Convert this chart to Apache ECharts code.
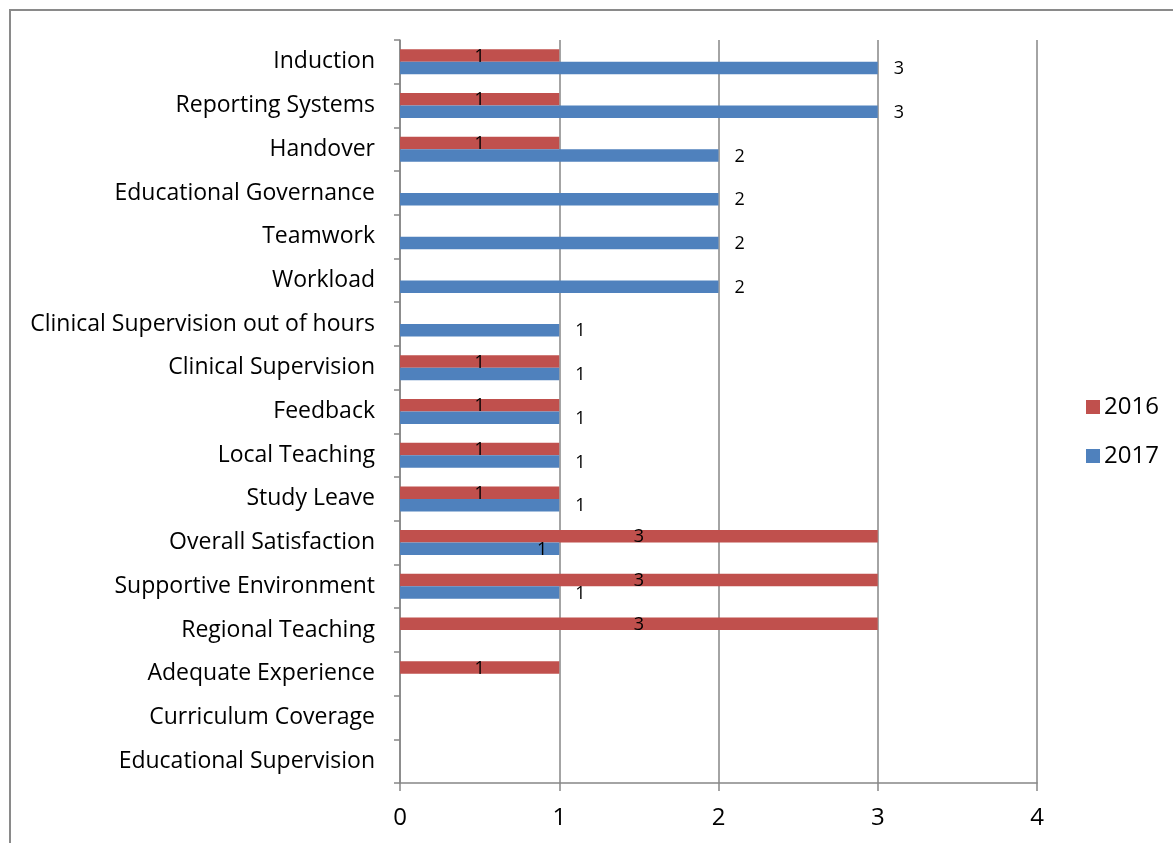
<!DOCTYPE html>
<html>
<head>
<meta charset="utf-8">
<script src="https://cdn.jsdelivr.net/npm/echarts@6/dist/echarts.min.js"></script>
<style>
html,body{margin:0;padding:0;background:#fff;}
#chart{width:1173px;height:843px;}
</style>
</head>
<body>
<div id="chart"></div>
<script>
const categories = ["Induction","Reporting Systems","Handover","Educational Governance","Teamwork","Workload","Clinical Supervision out of hours","Clinical Supervision","Feedback","Local Teaching","Study Leave","Overall Satisfaction","Supportive Environment","Regional Teaching","Adequate Experience","Curriculum Coverage","Educational Supervision"];
const values2016 = [1,1,1,null,null,null,null,1,1,1,1,3,3,3,1,null,null];
const values2017 = [3,3,2,2,2,2,1,1,1,1,1,1,1,null,null,null,null];
const xTicks = [0,1,2,3,4];

const FONT = "'Open Sans', 'Liberation Sans', sans-serif";
const chart = echarts.init(document.getElementById('chart'));

const data2017 = values2017.map((v, i) => {
  if (categories[i] === "Overall Satisfaction") {
    return { value: v, label: { position: 'insideRight', distance: 12 } };
  }
  return v;
});

chart.setOption({
  animation: false,
  backgroundColor: '#ffffff',
  graphic: [{
    type: 'rect',
    shape: { x: 10, y: 10, width: 1300, height: 1000 },
    style: { fill: 'none', stroke: '#8a8a8a', lineWidth: 2 },
    silent: true
  }],
  grid: { left: 400, right: 136, top: 40, bottom: 60 },
  legend: {
    orient: 'vertical',
    left: 1081,
    top: 390,
    itemWidth: 14,
    itemHeight: 14,
    itemGap: 25,
    icon: 'rect',
    textStyle: { fontFamily: FONT, fontSize: 24, lineHeight: 24, color: '#000', padding: [0, 0, 0, -1] },
    data: ['2016', '2017']
  },
  xAxis: {
    type: 'value',
    min: xTicks[0],
    max: xTicks[xTicks.length - 1],
    interval: 1,
    axisLine: { show: true, lineStyle: { color: '#868686', width: 1.5 } },
    axisTick: { show: true, length: 8, lineStyle: { color: '#868686', width: 1.5 } },
    axisLabel: { fontFamily: FONT, fontSize: 24, color: '#000', margin: 23 },
    splitLine: { show: true, lineStyle: { color: '#868686', width: 1.5 } }
  },
  yAxis: {
    type: 'category',
    inverse: true,
    data: categories,
    axisLine: { show: true, lineStyle: { color: '#868686', width: 1.5 } },
    axisTick: { show: true, length: 6, lineStyle: { color: '#868686', width: 1.5 } },
    axisLabel: { fontFamily: FONT, fontSize: 23, color: '#000', margin: 25 },
    splitLine: { show: false }
  },
  series: [
    {
      name: '2016',
      type: 'bar',
      barWidth: 12.5,
      barGap: '0%',
      itemStyle: { color: '#C0504D' },
      label: { show: true, position: 'inside', fontFamily: FONT, fontSize: 18, color: '#000', offset: [0, 1] },
      data: values2016
    },
    {
      name: '2017',
      type: 'bar',
      barWidth: 12.5,
      barGap: '0%',
      itemStyle: { color: '#4F81BD' },
      label: { show: true, position: 'right', distance: 16, fontFamily: FONT, fontSize: 18, color: '#000', offset: [0, 1] },
      data: data2017
    }
  ]
});
</script>
</body>
</html>
